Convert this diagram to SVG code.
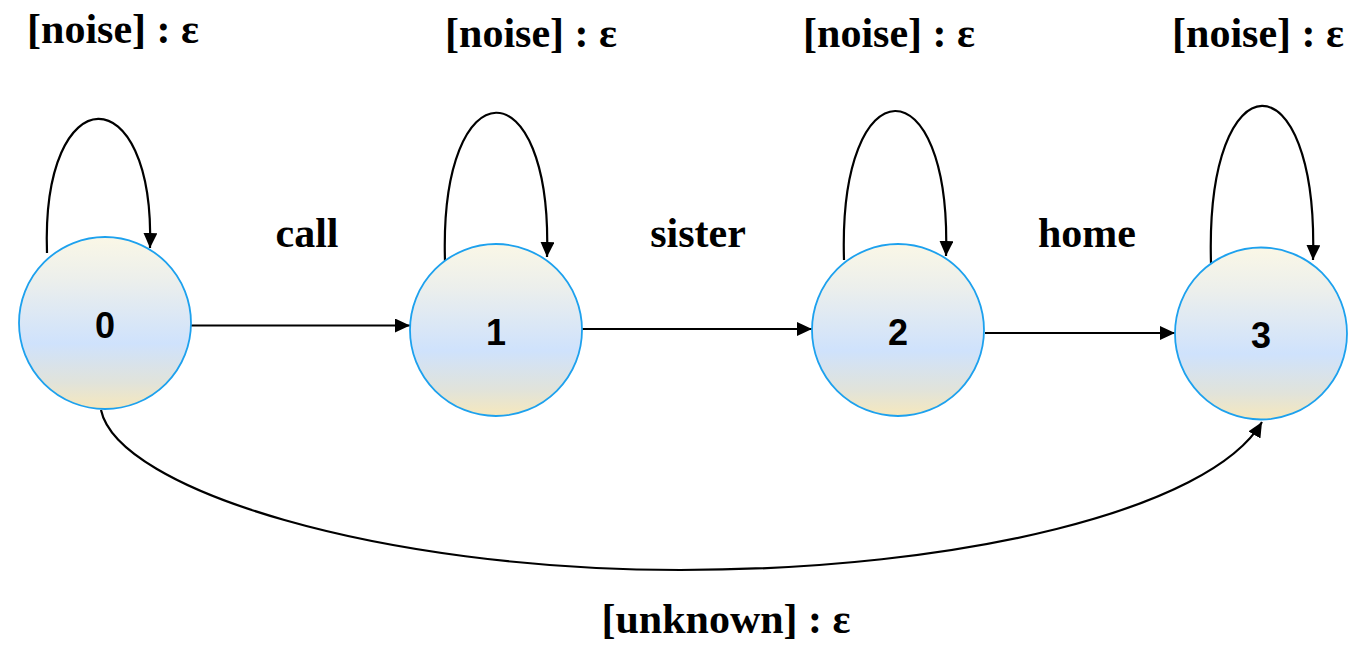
<svg xmlns="http://www.w3.org/2000/svg" width="1353" height="646" viewBox="0 0 1353 646">
  <style>
    .state { stroke: #1da1ee; stroke-width: 1.8; fill: url(#grad); }
    .num { font-family: "Liberation Sans", Arial, sans-serif; font-weight: bold; font-size: 36px; fill: #000; text-anchor: middle; }
    .lbl { font-family: "Liberation Serif", "Times New Roman", serif; font-weight: bold; font-size: 42px; fill: #000; text-anchor: middle; }
    .edge { fill: none; stroke: #000; stroke-width: 2.2; marker-end: url(#arrow); }
  </style>
  <defs>
    <linearGradient id="grad" x1="0" y1="0" x2="0" y2="1">
      <stop offset="0" stop-color="#faf7e6"/>
      <stop offset="0.25" stop-color="#ecefec"/>
      <stop offset="0.62" stop-color="#cfe2fc"/>
      <stop offset="0.85" stop-color="#e1e3da"/>
      <stop offset="1" stop-color="#f6e8bc"/>
    </linearGradient>
    <marker id="arrow" markerUnits="userSpaceOnUse" markerWidth="16" markerHeight="14" refX="15" refY="7" orient="auto">
      <path d="M0,0 L15,7 L0,14 Z" fill="#000"/>
    </marker>
  </defs>

  <g id="connectors">
    <path class="edge" d="M47,253 C41,75 155,75 150,248"/>
    <path class="edge" d="M445,261 C439,64 553,64 547,257"/>
    <path class="edge" d="M844,260 C838,62 952,62 946,256"/>
    <path class="edge" d="M1211,263 C1205,54 1319,54 1313,260"/>
    <path class="edge" d="M191,325.5 L410,325.5"/>
    <path class="edge" d="M582,329 L812,329"/>
    <path class="edge" d="M985,333 L1175,333"/>
    <path class="edge" d="M101,410 C118,490 380,570 680,570 C960,570 1210,510 1262,422"/>
  </g>

  <g id="labels">
    <text class="lbl" x="113" y="43">[noise] : ε</text>
    <text class="lbl" x="531" y="47">[noise] : ε</text>
    <text class="lbl" x="889" y="47">[noise] : ε</text>
    <text class="lbl" x="1258" y="47">[noise] : ε</text>
    <text class="lbl" x="307" y="247">call</text>
    <text class="lbl" x="698" y="247">sister</text>
    <text class="lbl" x="1087" y="247">home</text>
    <text class="lbl" x="726" y="633">[unknown] : ε</text>
  </g>

  <g id="node0">
    <circle class="state" cx="105" cy="323" r="86"/>
    <text class="num" x="105" y="338">0</text>
  </g>
  <g id="node1">
    <circle class="state" cx="496" cy="330" r="86"/>
    <text class="num" x="496" y="345">1</text>
  </g>
  <g id="node2">
    <circle class="state" cx="898" cy="330" r="86"/>
    <text class="num" x="898" y="345">2</text>
  </g>
  <g id="node3">
    <circle class="state" cx="1261" cy="333.5" r="86"/>
    <text class="num" x="1261" y="348">3</text>
  </g>
</svg>
